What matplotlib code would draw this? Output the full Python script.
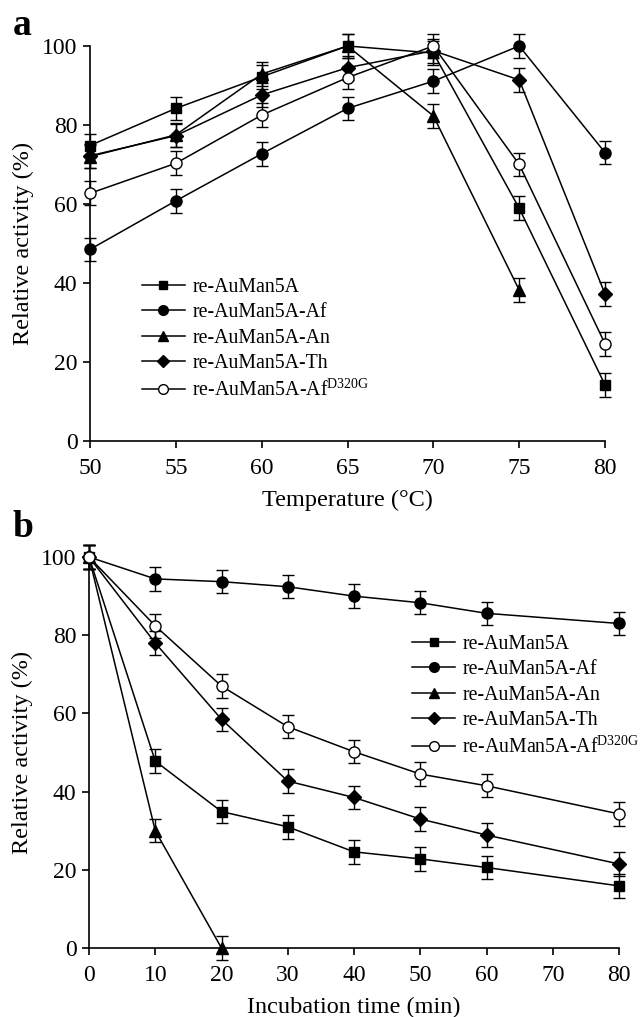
import matplotlib
matplotlib.use("Agg")
import matplotlib.pyplot as plt
from matplotlib.lines import Line2D
import numpy as np

plt.rcParams['font.family'] = ['Liberation Serif', 'DejaVu Serif']
plt.rcParams['mathtext.fontset'] = 'custom'
plt.rcParams['mathtext.rm'] = 'Liberation Serif'

labels = ['re-AuMan5A', 're-AuMan5A-Af', 're-AuMan5A-An', 're-AuMan5A-Th',
          r're-AuMan5A-Af$^{\mathrm{D320G}}$']

# Panel a: temperature
temp = [50, 55, 60, 65, 70, 75, 80]
a_sq = [74.8, 84.2, 92.2, 100, 98.2, 58.9, 14.2]
a_ci = [48.5, 60.8, 72.7, 84.2, 91.1, 100, 73]
a_tr = [72, 77.5, 92.9, 100, 82.3, 38.2]
a_di = [72.2, 77.3, 87.6, 94.5, 98.8, 91.4, 37.2]
a_oc = [62.7, 70.3, 82.5, 92, 100, 70, 24.6]
a_err = 3

# Panel b: incubation time
time = [0, 10, 20, 30, 40, 50, 60, 80]
b_sq = [100, 47.8, 34.9, 31, 24.6, 22.8, 20.6, 15.9]
b_ci = [100, 94.4, 93.7, 92.4, 90, 88.3, 85.6, 83]
b_tr = [100, 30, 0]
b_di = [100, 78, 58.5, 42.7, 38.5, 33, 28.9, 21.5]
b_oc = [100, 82.4, 67, 56.6, 50.2, 44.5, 41.5, 34.3]
b_err = 3

styles = [dict(marker='s', mfc='black', ms=7),
          dict(marker='o', mfc='black', ms=8),
          dict(marker='^', mfc='black', ms=8),
          dict(marker='D', mfc='black', ms=7),
          dict(marker='o', mfc='white', ms=8)]

fig = plt.figure(figsize=(6.44, 10.17), dpi=100)
axa = fig.add_axes([0.1398, 0.5664, 0.7997, 0.3884])
axb = fig.add_axes([0.1382, 0.0678, 0.8230, 0.3845])

def draw(ax, x, series, err):
    for ys, st in zip(series, styles):
        xs = x[:len(ys)]
        ax.errorbar(xs, ys, yerr=err, color='black', lw=1.1, capsize=4,
                    elinewidth=1.0, capthick=1.0, mec='black', mew=1.0,
                    clip_on=False, zorder=3, **st)
    for s in ['top', 'right']:
        ax.spines[s].set_visible(False)
    for s in ['left', 'bottom']:
        ax.spines[s].set_linewidth(1.2)
    ax.set_ylim(0, 100)
    ax.set_yticks(np.arange(0, 101, 20))
    ax.tick_params(direction='out', length=5, width=1.2, labelsize=17, pad=4)
    ax.tick_params(axis='x', pad=7)
    ax.set_ylabel('Relative activity (%)', fontsize=17.5, labelpad=6)

draw(axa, temp, [a_sq, a_ci, a_tr, a_di, a_oc], a_err)
axa.set_xlim(50, 80)
axa.set_xticks(np.arange(50, 81, 5))
axa.set_xlabel('Temperature (°C)', fontsize=17.5, labelpad=8)

draw(axb, time, [b_sq, b_ci, b_tr, b_di, b_oc], b_err)
axb.set_xlim(0, 80)
axb.set_xticks(np.arange(0, 81, 10))
axb.set_xlabel('Incubation time (min)', fontsize=17.5, labelpad=8)

def legend(ax, anchor):
    handles = [Line2D([], [], color='black', lw=1.1, mec='black', mew=1.0,
                      **{k: (v - 1 if k == 'ms' else v) for k, v in st.items()})
               for st in styles]
    ax.legend(handles, labels, loc='upper left', bbox_to_anchor=anchor,
              frameon=False, fontsize=14.3, handlelength=2.2,
              handletextpad=0.35, labelspacing=0.31, borderpad=0,
              borderaxespad=0)

legend(axa, (0.10, 0.412))
legend(axb, (0.609, 0.80))

fig.text(0.02, 0.975, 'a', fontsize=27, fontweight='bold', va='center')
fig.text(0.02, 0.481, 'b', fontsize=27, fontweight='bold', va='center')

fig.savefig('out.png', dpi=100)
